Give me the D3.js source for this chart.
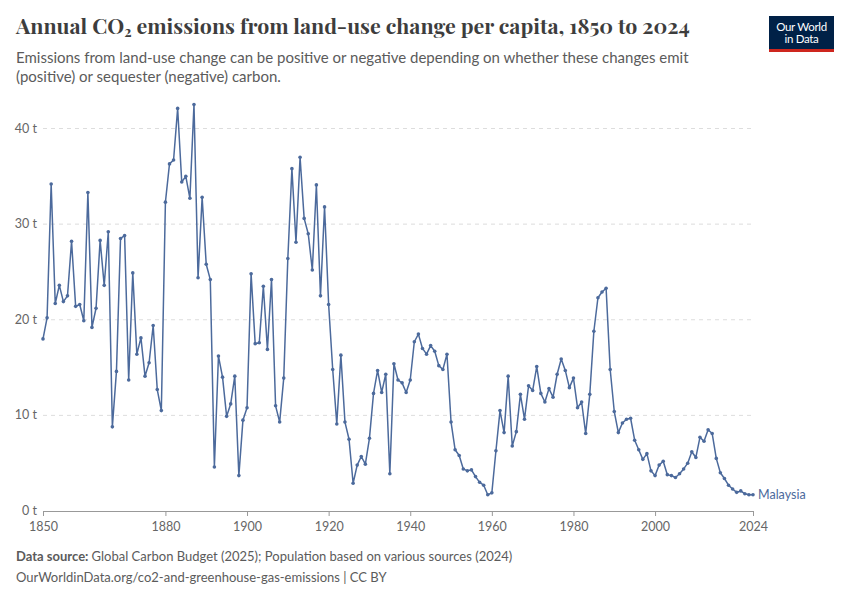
<!DOCTYPE html>
<html>
<head>
<meta charset="utf-8">
<script src="https://cdn.jsdelivr.net/npm/d3@7"></script>
<style>
  body { margin: 0; background: #fff; }
  svg { display: block; }
</style>
</head>
<body>
<div id="chart"></div>
<script>
// Malaysia, tonnes CO2 per person from land-use change
var startYear = 1850;
var values = [
  18.0, 20.2, 34.2, 21.7, 23.6, 21.9, 22.5, 28.2, 21.4, 21.6,
  19.9, 33.3, 19.2, 21.2, 28.3, 23.6, 29.2, 8.8, 14.6, 28.5,
  28.8, 13.7, 24.9, 16.4, 18.1, 14.1, 15.5, 19.4, 12.7, 10.5,
  32.3, 36.3, 36.7, 42.1, 34.4, 35.0, 32.7, 42.5, 24.4, 32.8,
  25.8, 24.2, 4.6, 16.2, 14.0, 9.9, 11.2, 14.1, 3.7, 9.5,
  10.8, 24.8, 17.5, 17.6, 23.5, 16.9, 24.2, 11.0, 9.3, 13.9,
  26.4, 35.8, 28.1, 37.0, 30.6, 29.0, 25.2, 34.1, 22.5, 31.8,
  21.6, 14.8, 9.1, 16.3, 9.3, 7.5, 2.9, 4.8, 5.7, 4.9,
  7.6, 12.3, 14.7, 12.4, 14.3, 3.9, 15.4, 13.7, 13.4, 12.4,
  13.7, 17.7, 18.5, 17.0, 16.4, 17.3, 16.7, 15.2, 14.8, 16.4,
  9.3, 6.4, 5.8, 4.4, 4.2, 4.3, 3.6, 3.0, 2.7, 1.7,
  1.9, 6.3, 10.5, 8.2, 14.1, 6.8, 8.3, 12.2, 9.6, 13.1,
  12.6, 15.1, 12.3, 11.4, 12.8, 11.9, 14.3, 15.9, 14.7, 12.9,
  13.9, 10.8, 11.4, 8.1, 12.2, 18.8, 22.3, 22.9, 23.3, 14.8,
  10.4, 8.2, 9.2, 9.6, 9.7, 7.4, 6.4, 5.4, 6.0, 4.2,
  3.7, 4.8, 5.2, 3.8, 3.7, 3.5, 3.9, 4.4, 5.0, 6.2,
  5.6, 7.7, 7.3, 8.5, 8.1, 5.5, 4.0, 3.4, 2.7, 2.3,
  1.95, 2.1, 1.8, 1.7, 1.7
];
var yTicks = [0, 10, 20, 30, 40];
var xTicks = [1850, 1880, 1900, 1920, 1940, 1960, 1980, 2000, 2024];
var entity = "Malaysia";

var data = values.map(function(v, i){ return {year: startYear + i, value: v}; });

var width = 850, height = 600;
var margin = {left: 43, right: 97, top: 100, bottom: 89};
var lineColor = "#4c6a9c";
var textGrey = "#5b5b5b";

var svg = d3.select("#chart").append("svg")
    .attr("width", width)
    .attr("height", height)
    .style("font-family", "Lato, 'Noto Sans', sans-serif");

var x = d3.scaleLinear()
    .domain([startYear, startYear + values.length - 1])
    .range([margin.left, width - margin.right]);

var y = d3.scaleLinear()
    .domain([0, 40])
    .range([height - margin.bottom, 128.5]);

// header
svg.append("text")
    .attr("x", 16).attr("y", 34)
    .style("font-family", "'Playfair Display', 'Liberation Serif', 'DejaVu Serif', serif")
    .style("font-size", "21.4px")
    .style("font-weight", "bold")
    .style("fill", "#3d3d3d")
    .call(function(t){
        t.append("tspan").text("Annual CO");
        t.append("tspan").attr("font-size", "14px").attr("dy", 3).text("2");
        t.append("tspan").attr("dy", -3).text(" emissions from land-use change per capita, 1850 to 2024");
    });

var sub = ["Emissions from land-use change can be positive or negative depending on whether these changes emit",
           "(positive) or sequester (negative) carbon."];
svg.selectAll(".sub").data(sub).enter().append("text")
    .attr("x", 16)
    .attr("y", function(d, i){ return 63 + i * 19; })
    .style("font-size", "15px")
    .style("fill", textGrey)
    .text(function(d){ return d; });

// logo
var logo = svg.append("g").attr("transform", "translate(769,16)");
logo.append("rect").attr("width", 65).attr("height", 36).attr("fill", "#002147");
logo.append("rect").attr("y", 33).attr("width", 65).attr("height", 3).attr("fill", "#ce261e");
logo.selectAll("text").data(["Our World", "in Data"]).enter().append("text")
    .attr("x", 32.5)
    .attr("y", function(d, i){ return 15 + i * 12; })
    .style("text-anchor", "middle")
    .style("font-size", "11.5px")
    .style("fill", "#fff")
    .style("letter-spacing", "-0.3px")
    .text(function(d){ return d; });

// grid
svg.append("g").selectAll("line").data(yTicks.filter(function(d){ return d > 0; })).enter().append("line")
    .attr("x1", margin.left).attr("x2", width - margin.right)
    .attr("y1", function(d){ return y(d); }).attr("y2", function(d){ return y(d); })
    .attr("stroke", "#dddddd")
    .attr("stroke-dasharray", "4,4");

svg.append("g").selectAll("text").data(yTicks).enter().append("text")
    .attr("x", 37)
    .attr("y", function(d){ return y(d) + 4; })
    .style("text-anchor", "end")
    .style("font-size", "12.5px")
    .style("fill", "#666")
    .text(function(d){ return d + " t"; });

// x axis
var xAxis = svg.append("g")
    .attr("transform", "translate(0," + y(0) + ")")
    .call(d3.axisBottom(x).tickValues(xTicks).tickFormat(d3.format("d")).tickSize(5).tickSizeOuter(0));
xAxis.select(".domain").attr("stroke", "#999");
xAxis.selectAll(".tick line").attr("stroke", "#999");
xAxis.selectAll(".tick text")
    .attr("dy", "0.95em")
    .style("font-family", "Lato, sans-serif")
    .style("font-size", "12.5px")
    .style("fill", "#666");

// line + markers
var line = d3.line()
    .x(function(d){ return x(d.year); })
    .y(function(d){ return y(d.value); });

svg.append("path")
    .datum(data)
    .attr("d", line)
    .attr("fill", "none")
    .attr("stroke", lineColor)
    .attr("stroke-width", 1.5)
    .attr("stroke-linejoin", "round");

svg.append("g").selectAll("circle").data(data).enter().append("circle")
    .attr("cx", function(d){ return x(d.year); })
    .attr("cy", function(d){ return y(d.value); })
    .attr("r", 1.8)
    .attr("fill", lineColor);

var last = data[data.length - 1];
svg.append("text")
    .attr("x", x(last.year) + 5)
    .attr("y", y(last.value) + 4.5)
    .style("font-size", "12.5px")
    .style("fill", lineColor)
    .text(entity);

// footer
svg.append("text")
    .attr("x", 16).attr("y", 561)
    .style("font-size", "13px")
    .style("fill", textGrey)
    .call(function(t){
        t.append("tspan").style("font-weight", "bold").text("Data source: ");
        t.append("tspan").text("Global Carbon Budget (2025); Population based on various sources (2024)");
    });
svg.append("text")
    .attr("x", 16).attr("y", 582)
    .style("font-size", "13px")
    .style("fill", textGrey)
    .text("OurWorldinData.org/co2-and-greenhouse-gas-emissions | CC BY");
</script>
</body>
</html>
